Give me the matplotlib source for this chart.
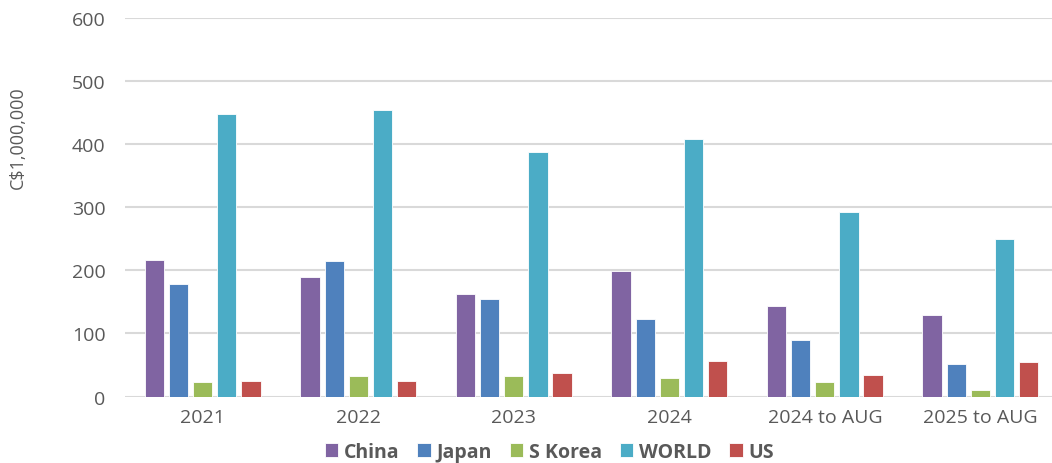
import numpy as np
import matplotlib
matplotlib.use('Agg')
import matplotlib.pyplot as plt

plt.rcParams['font.family'] = ['Open Sans', 'DejaVu Sans']

periods = ['2021', '2022', '2023', '2024', '2024 to AUG', '2025 to AUG']
series = ['China', 'Japan', 'S Korea', 'WORLD', 'US']
china = [217, 189, 162, 199, 143, 130]
japan = [178, 215, 155, 123, 90, 52]
s_korea = [23, 32, 32, 30, 23, 11]
world = [447, 454, 387, 407, 292, 249]
us = [25, 24, 37, 57, 35, 55]
values = [china, japan, s_korea, world, us]
colors = ['#8064A2', '#4F81BD', '#9BBB59', '#4BACC6', '#C0504D']

txt = '#595959'
fig = plt.figure(figsize=(10.52, 4.64), dpi=100)
ax = fig.add_axes([0.1188, 0.143, 0.887, 0.817])

x = np.arange(len(periods))
step = 0.155
width = 0.124
for i, (name, vals, c) in enumerate(zip(series, values, colors)):
    ax.bar(x + (i - 2) * step, vals, width, color=c, label=name,
           edgecolor='white', linewidth=0.6, zorder=3)

ax.set_xlim(-0.5, 5.5)
ax.set_ylim(0, 600)
ax.set_yticks(range(0, 601, 100))
ax.set_xticks(x)
ax.set_xticklabels(periods)
ax.grid(axis='y', color='#d9d9d9', linewidth=1.5, zorder=0)
for s in ax.spines.values():
    s.set_visible(False)
ax.tick_params(length=0, labelsize=14, colors=txt, pad=8)
ax.tick_params(axis='y', pad=14)
ax.set_ylabel('C$1,000,000', fontsize=13, color=txt)
ax.yaxis.set_label_coords(-0.105, 0.685)

leg = ax.legend(loc='center', bbox_to_anchor=(0.455, -0.145), ncol=5, frameon=False,
                prop={'size': 14, 'weight': 'bold'}, handlelength=0.7, handleheight=0.7,
                handletextpad=0.3, columnspacing=0.9, labelcolor=txt)

fig.savefig('out.png', dpi=100)
